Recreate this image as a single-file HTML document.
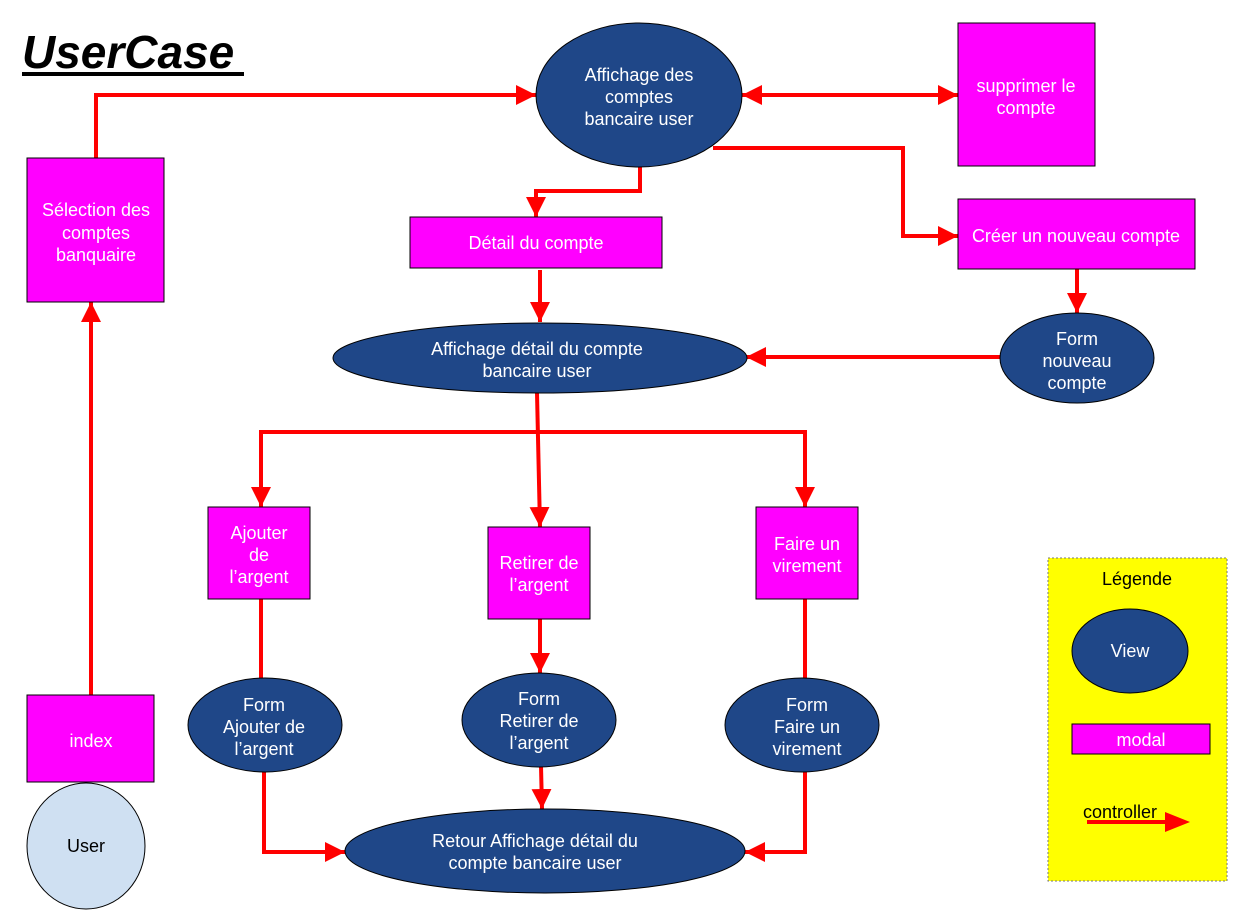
<!DOCTYPE html>
<html><head><meta charset="utf-8"><style>
html,body{margin:0;padding:0;background:#fff;}
svg{display:block;}
text{font-family:"Liberation Sans",sans-serif;font-size:18px;text-anchor:middle;}
.w{fill:#fff;}
</style></head><body>
<svg width="1240" height="920" viewBox="0 0 1240 920" xmlns="http://www.w3.org/2000/svg">
<defs>
<marker id="a" viewBox="0 0 10 10" refX="10" refY="5" markerWidth="5" markerHeight="5" orient="auto-start-reverse" markerUnits="strokeWidth">
<path d="M0,0 L10,5 L0,10 z" fill="#ff0000"/></marker>
</defs>
<text x="22" y="68" style="font-size:46px;font-weight:bold;font-style:italic;text-anchor:start">UserCase</text>
<rect x="22" y="72" width="222" height="4" fill="#000"/>

<g fill="none" stroke="#ff0000" stroke-width="4">
<path d="M91,695 L91,302" marker-end="url(#a)"/>
<path d="M96,158 L96,95 L536,95" marker-end="url(#a)"/>
<path d="M742,95 L958,95" marker-start="url(#a)" marker-end="url(#a)"/>
<path d="M713,148 L903,148 L903,236 L958,236" marker-end="url(#a)"/>
<path d="M640,166 L640,191 L536,191 L536,217" marker-end="url(#a)"/>
<path d="M540,270 L540,322" marker-end="url(#a)"/>
<path d="M1077,269 L1077,313" marker-end="url(#a)"/>
<path d="M1000,357 L746,357" marker-end="url(#a)"/>
<path d="M537,393 L540,527" marker-end="url(#a)"/>
<path d="M261,507 L261,432 L805,432 L805,507" marker-start="url(#a)" marker-end="url(#a)"/>
<path d="M261,599 L261,680"/>
<path d="M540,619 L540,673" marker-end="url(#a)"/>
<path d="M805,599 L805,680"/>
<path d="M264,772 L264,852 L345,852" marker-end="url(#a)"/>
<path d="M541,766 L542,809" marker-end="url(#a)"/>
<path d="M805,772 L805,852 L745,852" marker-end="url(#a)"/>
</g>

<g stroke="#000" stroke-width="1">
<ellipse cx="639" cy="95" rx="103" ry="72" fill="#1f4788"/>
<rect x="958" y="23" width="137" height="143" fill="#ff00ff"/>
<rect x="27" y="158" width="137" height="144" fill="#ff00ff"/>
<rect x="410" y="217" width="252" height="51" fill="#ff00ff"/>
<rect x="958" y="199" width="237" height="70" fill="#ff00ff"/>
<ellipse cx="540" cy="358" rx="207" ry="35" fill="#1f4788"/>
<ellipse cx="1077" cy="358" rx="77" ry="45" fill="#1f4788"/>
<rect x="208" y="507" width="102" height="92" fill="#ff00ff"/>
<rect x="488" y="527" width="102" height="92" fill="#ff00ff"/>
<rect x="756" y="507" width="102" height="92" fill="#ff00ff"/>
<ellipse cx="265" cy="725" rx="77" ry="47" fill="#1f4788"/>
<ellipse cx="539" cy="720" rx="77" ry="47" fill="#1f4788"/>
<ellipse cx="802" cy="725" rx="77" ry="47" fill="#1f4788"/>
<ellipse cx="545" cy="851" rx="200" ry="42" fill="#1f4788"/>
<rect x="27" y="695" width="127" height="87" fill="#ff00ff"/>
<ellipse cx="86" cy="846" rx="59" ry="63" fill="#cfe0f2"/>
</g>

<rect x="1048" y="558" width="179" height="323" fill="#ffff00" stroke="#777" stroke-width="1" stroke-dasharray="2,2"/>
<ellipse cx="1130" cy="651" rx="58" ry="42" fill="#1f4788" stroke="#000"/>
<rect x="1072" y="724" width="138" height="30" fill="#ff00ff" stroke="#000"/>
<path d="M1087,822 L1168,822" stroke="#ff0000" stroke-width="4"/>
<path d="M1165,812 L1190,822 L1165,832 z" fill="#ff0000"/>

<g class="w">
<text x="639" y="81">Affichage des</text><text x="639" y="103">comptes</text><text x="639" y="125">bancaire user</text>
<text x="1026" y="92">supprimer le</text><text x="1026" y="114">compte</text>
<text x="96" y="216">Sélection des</text><text x="96" y="239">comptes</text><text x="96" y="261">banquaire</text>
<text x="536" y="249">Détail du compte</text>
<text x="1076" y="242">Créer un nouveau compte</text>
<text x="537" y="355">Affichage détail du compte</text><text x="537" y="377">bancaire user</text>
<text x="1077" y="345">Form</text><text x="1077" y="367">nouveau</text><text x="1077" y="389">compte</text>
<text x="259" y="539">Ajouter</text><text x="259" y="561">de</text><text x="259" y="583">l’argent</text>
<text x="539" y="569">Retirer de</text><text x="539" y="591">l’argent</text>
<text x="807" y="550">Faire un</text><text x="807" y="572">virement</text>
<text x="264" y="711">Form</text><text x="264" y="733">Ajouter de</text><text x="264" y="755">l’argent</text>
<text x="539" y="705">Form</text><text x="539" y="727">Retirer de</text><text x="539" y="749">l’argent</text>
<text x="807" y="711">Form</text><text x="807" y="733">Faire un</text><text x="807" y="755">virement</text>
<text x="535" y="847">Retour Affichage détail du</text><text x="535" y="869">compte bancaire user</text>
<text x="91" y="747">index</text>
<text x="1130" y="657">View</text>
<text x="1141" y="746">modal</text>
</g>
<text x="86" y="852">User</text>
<text x="1137" y="585">Légende</text>
<text x="1120" y="818">controller</text>
</svg>
</body></html>
